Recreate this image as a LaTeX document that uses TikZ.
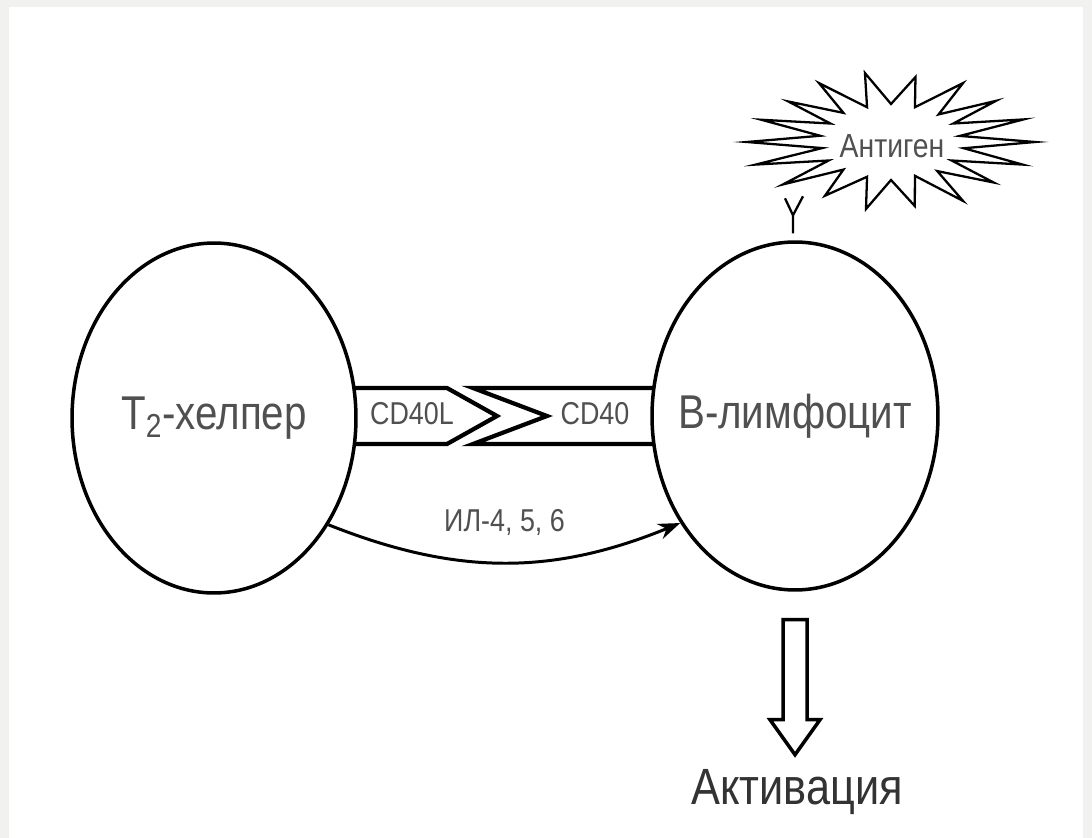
\documentclass[tikz,border=0pt]{standalone}
\usepackage{fontspec}
\newfontfamily\narrowsans[FakeStretch=0.85]{Liberation Sans}
\usetikzlibrary{arrows.meta,shapes.geometric}
\definecolor{framegray}{HTML}{F1F1EF}
\definecolor{labelgray}{HTML}{505050}
\tikzset{
  cell/.style={ellipse, draw, line width=2pt, fill=white, inner sep=0pt},
  celltext/.style={text=labelgray, font=\narrowsans\fontsize{27}{32}\selectfont},
  receptor/.style={draw, line width=2.4pt, fill=white},
  smalllabel/.style={text=labelgray, font=\narrowsans\fontsize{18}{22}\selectfont},
  signal/.style={line width=1.7pt, -{Stealth[length=0.44cm,width=0.32cm]}},
  hollow/.style={draw, line width=2pt, fill=white},
  burst/.style={draw, line width=1.3pt, fill=white, line join=miter, miter limit=25},
}

\begin{document}
\begin{tikzpicture}[x=0.02cm,y=-0.02cm]
	% page frame
	\fill[framegray] (0,0) rectangle (1092,838);
	\fill[white] (9,7) rectangle (1083,838);
	\useasboundingbox (0,0) rectangle (1092,838);
	% ligand and receptor between the cells
	\draw[receptor] (300,388) -- (447,388) -- (497,416) -- (447,444) -- (300,444);
	\draw[receptor] (700,388) -- (473,388) -- (547,416) -- (473,444) -- (700,444);
	\node[smalllabel] (cd40l) at (412,414) {CD40L};
	\node[smalllabel] (cd40) at (595,414) {CD40};
	% cells
	\node[cell, minimum width=5.68cm, minimum height=7cm,
		label={[celltext]center:T\textsubscript{2}-хелпер}] (thelper) at (214,418) {};
	\node[cell, minimum width=5.72cm, minimum height=6.96cm,
		label={[celltext]center:В-лимфоцит}] (blymph) at (795,416) {};
	% cytokines
	\draw[signal] (thelper.-43) to[bend right=22]
		node[smalllabel, midway, yshift=0.8cm] (il) {ИЛ-4, 5, 6} (blymph.-137);
	% antigen receptor
	\draw[line width=1.3pt] (blymph.north) ++(-2,-7) -- ++(0,-18) coordinate (fork) -- ++(-8,-17)
		(fork) -- ++(10,-19);
	% antigen
	\begin{scope}[shift={(891,142)}]
		\draw[burst] (0:144 and 62)
			\foreach \a/\rx/\ry in {10/74/36, 20/140/66, 30/70/37, 40/134/63, 50/72/38, 60/144/68,
				70/70/36, 80/137/65, 90/72/38, 100/144/68, 110/70/37, 120/132/62, 130/74/36,
				140/141/66, 150/72/37, 160/144/66, 170/70/35, 180/144/64, 190/72/36, 200/138/65,
				210/70/37, 220/134/63, 230/74/38, 240/144/68, 250/70/37, 260/150/70, 270/72/38,
				280/141/66, 290/70/37, 300/144/68, 310/74/36, 320/137/64, 330/72/37, 340/141/66,
				350/70/35} {-- (\a:{\rx} and {\ry})} -- cycle;
	\end{scope}
	\node[smalllabel, font=\narrowsans\fontsize{19}{23}\selectfont] (antigen) at (892,146) {Антиген};
	% activation
	\draw[hollow] (blymph.south) ++(-12,28) -- ++(0,100) -- ++(-13,0) -- ++(25,35) coordinate (tip)
		-- ++(25,-35) -- ++(-13,0) -- ++(0,-100) -- cycle;
	\node[text=black!80, font=\narrowsans\fontsize{29}{34}\selectfont] (act) at (797,792) {Активация};
\end{tikzpicture}
\end{document}
